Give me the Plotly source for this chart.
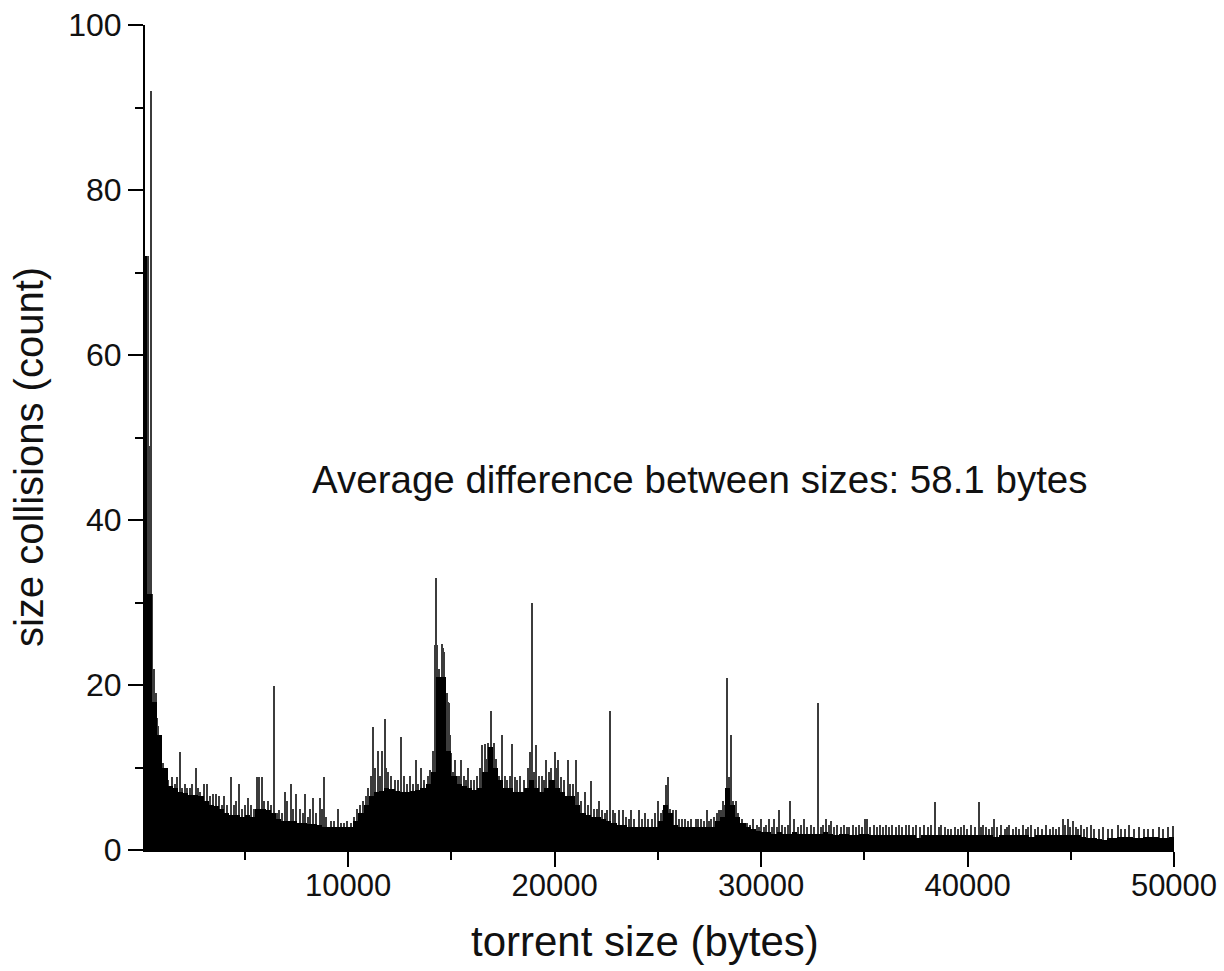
import plotly.graph_objects as go

# Histogram of torrent size collisions (counts per size bin)
BIN_WIDTH = 250
base_counts = [
    72, 31, 18, 14, 10, 7.8, 7.5, 7.0, 6.9, 6.7, 6.7, 6.5, 6.0, 5.5, 5.3, 5.0, 4.5, 4.2, 4.2, 4.0,
    4.2, 4.0, 5.0, 5.0, 4.8, 4.5, 3.8, 3.5, 3.5, 3.5, 3.3, 3.3, 3.2, 3.2, 3.0, 2.8, 2.8, 2.8, 2.8, 2.8,
    2.8, 3.5, 4.5, 5.5, 6.5, 7.0, 7.2, 7.5, 7.4, 7.2, 7.0, 7.0, 7.2, 7.3, 7.5, 8.0, 9.5, 21, 21, 12,
    9.0, 8.0, 7.8, 7.5, 7.3, 7.5, 9.5, 12.5, 10, 8.5, 7.5, 7.5, 7.0, 7.0, 7.5, 8.5, 7.5, 7.0, 7.5, 8.5,
    7.5, 7.0, 6.5, 6.5, 5.5, 4.5, 4.2, 4.0, 4.0, 3.8, 3.5, 3.3, 3.0, 3.0, 2.8, 2.8, 2.8, 2.8, 2.8, 2.8,
    3.5, 5.5, 4.5, 3.0, 2.8, 2.8, 2.8, 2.8, 2.8, 2.8, 2.8, 3.5, 4.0, 7.5, 5.5, 4.0, 3.3, 2.8, 2.5, 2.3,
    2.2, 2.2, 2.0, 2.2, 2.0, 2.0, 2.2, 2.0, 2.0, 2.0, 2.0, 2.0, 2.2, 2.0, 1.8, 2.0, 2.0, 1.8, 1.8, 2.0,
    2.0, 1.8, 1.8, 1.8, 1.8, 1.8, 1.8, 1.8, 1.8, 1.8, 1.5, 1.8, 1.8, 1.8, 1.8, 1.8, 1.8, 1.8, 1.8, 1.8,
    1.8, 1.8, 1.8, 1.8, 1.8, 1.6, 1.8, 1.8, 1.8, 1.8, 1.8, 1.8, 1.6, 1.8, 1.8, 1.8, 1.8, 1.8, 1.8, 1.8,
    1.8, 1.8, 1.6, 1.5, 1.5, 1.3, 1.2, 1.5, 1.5, 1.6, 1.6, 1.6, 1.5, 1.5, 1.6, 1.6, 1.6, 1.5, 1.5, 1.6,
]

# Individual narrow size bins (bytes) and their counts
SPIKE_WIDTH = 55
spike_sizes = [
    290, 350, 400, 470, 525, 575, 625, 690, 750, 800, 880, 950, 1050, 1150, 1300, 1450, 1600, 1730, 1854, 1950,
    2100, 2200, 2350, 2450, 2612, 2750, 2850, 3000, 3150, 3300, 3450, 3600, 3750, 3900, 4000, 4150, 4321, 4450, 4550, 4709,
    4850, 5000, 5160, 5300, 5450, 5600, 5700, 5850, 5950, 6100, 6250, 6418, 6550, 6650, 6800, 6950, 7050, 7257, 7350, 7500,
    7650, 7800, 7935, 8050, 8150, 8306, 8450, 8629, 8750, 8838, 8950, 9150, 9300, 9515, 9650, 9800, 9950, 10150, 10300, 10450,
    10600, 10700, 10850, 10950, 11100, 11209, 11300, 11450, 11550, 11650, 11774, 11850, 11950, 12100, 12250, 12400, 12550, 12700, 12850, 13000,
    13150, 13276, 13400, 13550, 13700, 13850, 13950, 14100, 14200, 14276, 14325, 14400, 14550, 14600, 14650, 14775, 14825, 14875, 14950, 15002,
    15100, 15164, 15300, 15400, 15486, 15600, 15700, 15809, 15950, 16100, 16250, 16400, 16502, 16615, 16700, 16800, 16900, 16938, 17050, 17150,
    17300, 17470, 17600, 17700, 17850, 17938, 18067, 18200, 18350, 18500, 18712, 18825, 18906, 19000, 19115, 19250, 19400, 19500, 19600, 19750,
    19850, 20003, 20100, 20164, 20325, 20450, 20648, 20750, 20890, 21019, 21150, 21300, 21457, 21600, 21745, 21900, 22050, 22148, 22300, 22450,
    22550, 22696, 22850, 22950, 23100, 23300, 23450, 23600, 23700, 23850, 24100, 24250, 24400, 24550, 24700, 24850, 25003, 25150, 25248, 25377,
    25490, 25600, 25732, 25893, 26050, 26150, 26297, 26450, 26600, 26850, 26950, 27100, 27250, 27377, 27500, 27587, 27700, 27850, 27950, 28050,
    28152, 28250, 28345, 28450, 28522, 28650, 28800, 28900, 29100, 29300, 29450, 29603, 29800, 29900, 30007, 30150, 30250, 30410, 30550, 30652,
    30750, 30862, 31000, 31150, 31300, 31426, 31620, 31800, 31950, 32104, 32250, 32400, 32550, 32749, 32900, 33000, 33152, 33300, 33394, 33550,
    33700, 33850, 34000, 34150, 34281, 34450, 34600, 34750, 34900, 35050, 35150, 35300, 35450, 35600, 35750, 35900, 36050, 36200, 36350, 36550,
    36700, 36850, 37000, 37188, 37350, 37510, 37700, 37914, 38100, 38250, 38446, 38600, 38720, 38900, 39050, 39204, 39400, 39550, 39700, 39849,
    40000, 40172, 40350, 40543, 40650, 40737, 40900, 41050, 41200, 41301, 41450, 41624, 41800, 41900, 42027, 42200, 42350, 42500, 42672, 42850,
    42950, 43076, 43250, 43400, 43600, 43801, 44000, 44150, 44300, 44450, 44610, 44700, 44850, 44950, 45092, 45250, 45350, 45495, 45650, 45800,
    45979, 46150, 46350, 46550, 46800, 47000, 47269, 47450, 47650, 47834, 48050, 48318, 48550, 48750, 49000, 49286, 49450, 49690, 49963,
]
spike_counts = [
    72, 49, 49, 92, 31, 22, 19, 19, 16, 15, 14, 12, 10.5, 9, 8.5, 8.9, 8, 8.9, 11.9, 7.5,
    8, 7.5, 7.5, 8, 10, 7.5, 7, 8, 8, 6.5, 6.8, 6.8, 6.5, 5.5, 6.5, 5.5, 8.9, 5.5, 6, 8.0,
    5, 5.5, 6.3, 5.5, 5, 8.9, 8.9, 8.9, 6, 6, 5.5, 19.9, 4.5, 4.8, 4.5, 7.0, 6, 8.0, 5, 6.8,
    5, 4.5, 6.8, 4, 5, 6.3, 4.5, 6.3, 5, 8.9, 4, 3.5, 3.5, 5.0, 3.3, 3.3, 3.5, 3.3, 4.0, 5,
    5.5, 6, 6.5, 7.5, 9, 14.9, 10, 12, 9, 12, 15.9, 10, 9.5, 9, 8.5, 8.5, 13.7, 9, 8, 9,
    8, 10.9, 8, 9.9, 8.5, 9, 9.7, 12, 24.8, 33, 24.8, 22, 25, 24.5, 24, 19, 18, 17.8, 14, 11.7,
    9.5, 10.9, 9, 9, 10.9, 9, 8.5, 9.9, 8.5, 8.5, 9, 10, 12.7, 12.9, 11, 13, 14, 16.8, 13, 11,
    9, 14, 9, 8.5, 9, 12.9, 8.9, 8.5, 9, 8.5, 9.9, 11.9, 30, 9.5, 12.7, 9, 9, 8.5, 10.9, 9.5,
    10, 11.9, 10, 10.9, 8.9, 8.5, 10.9, 8, 8, 10.9, 7, 6, 7, 5.5, 8.4, 5, 5, 6, 4.8, 4.5,
    4.8, 16.8, 4.8, 4.5, 4.8, 4.8, 4, 3.8, 4.8, 3.8, 4.8, 3.8, 4.5, 3.8, 3.8, 4.5, 6, 4.5, 4.8, 7.9,
    8.9, 5, 4.8, 4.8, 3.8, 3.8, 3.8, 3.5, 3.8, 3.8, 3.8, 3.8, 3.5, 4.8, 3.5, 3.8, 4.0, 4.5, 4.8, 4.8,
    6, 5.5, 20.8, 8.9, 14, 5.9, 5.9, 4.5, 3.8, 3.3, 3.0, 3.8, 3.0, 2.8, 3.8, 2.8, 3.0, 3.8, 2.8, 3.8,
    2.8, 4.8, 3, 2.8, 3.0, 5.9, 3.8, 2.8, 3.0, 3.8, 2.8, 3.0, 2.8, 17.8, 2.8, 3.0, 3.8, 3.0, 3.5, 2.8,
    3.0, 2.8, 3.0, 2.8, 2.8, 3, 2.8, 3.0, 2.8, 3.8, 3.8, 2.8, 3.0, 2.8, 3.0, 2.8, 3.0, 2.8, 3.0, 2.8,
    3.0, 2.8, 3.0, 3.0, 2.8, 3.0, 2.8, 3.0, 2.8, 3.0, 5.85, 2.8, 3.0, 2.8, 2.5, 2.5, 2.8, 2.5, 2.8, 3.0,
    2.5, 3.0, 2.8, 5.85, 2.8, 3.0, 2.8, 2.5, 2.8, 3.8, 2.8, 3.0, 2.5, 2.8, 3.0, 2.5, 2.8, 2.5, 3.0, 2.5,
    2.8, 3.0, 2.5, 2.8, 2.5, 3.0, 2.5, 2.8, 2.5, 2.8, 3.8, 3.0, 3.8, 2.8, 3.5, 2.8, 2.5, 3.0, 2.5, 2.8,
    3.0, 2.5, 2.5, 2.8, 2.5, 2.5, 3.0, 2.5, 2.5, 3.0, 2.5, 2.8, 2.5, 2.5, 2.5, 2.8, 2.5, 2.8, 2.9,
]

x_ticks = [10000, 20000, 30000, 40000, 50000]
y_ticks = [0, 20, 40, 60, 80, 100]

base_centers = [i * BIN_WIDTH + BIN_WIDTH / 2 for i in range(len(base_counts))]

FONT = "Liberation Sans, Arial, sans-serif"
TXT = "#111111"

fig = go.Figure()
# narrow bins first (drawn beneath), the broad mass on top
fig.add_trace(go.Bar(x=spike_sizes, y=spike_counts, width=SPIKE_WIDTH,
                     marker=dict(color="#3c3c3c", line=dict(width=0)), showlegend=False))
fig.add_trace(go.Bar(x=base_centers, y=base_counts, width=BIN_WIDTH,
                     marker=dict(color="black", line=dict(width=0)), showlegend=False))

fig.update_layout(
    width=1224, height=971,
    margin=dict(l=145, r=50, t=25, b=121, autoexpand=False),
    paper_bgcolor="white", plot_bgcolor="white",
    barmode="overlay", bargap=0,
    font=dict(family=FONT, color=TXT),
    xaxis=dict(range=[160, 50000], tickvals=x_ticks, ticktext=[str(v) for v in x_ticks],
               ticks="outside", ticklen=15, tickwidth=2, tickcolor="black",
               minor=dict(dtick=5000, tick0=0, ticks="outside", ticklen=8, tickwidth=2, tickcolor="black"),
               showline=True, linewidth=2, linecolor="black", showgrid=False, zeroline=False,
               automargin=False, ticklabelstandoff=-8, ticklabeloverflow="allow",
               tickfont=dict(size=31, family=FONT, color=TXT)),
    yaxis=dict(range=[0, 100], tickvals=y_ticks,
               ticks="outside", ticklen=15, tickwidth=2, tickcolor="black",
               minor=dict(dtick=10, tick0=0, ticks="outside", ticklen=8, tickwidth=2, tickcolor="black"),
               showline=True, linewidth=2, linecolor="black", showgrid=False, zeroline=False,
               automargin=False, ticklabeloverflow="allow",
               tickfont=dict(size=32, family=FONT, color=TXT)),
    annotations=[
        dict(text="torrent size (bytes)", xref="paper", yref="paper", x=0.486, y=-0.1115,
             showarrow=False, xanchor="center", yanchor="middle", font=dict(size=42, family=FONT, color=TXT)),
        dict(text="size collisions (count)", xref="paper", yref="paper", x=-0.112, y=0.476,
             showarrow=False, xanchor="center", yanchor="middle", textangle=-90,
             font=dict(size=40, family=FONT, color=TXT)),
        dict(text="Average difference between sizes: 58.1 bytes", xref="paper", yref="paper",
             x=0.539, y=0.4485, showarrow=False, xanchor="center", yanchor="middle",
             font=dict(size=38.5, family=FONT, color=TXT)),
    ],
)

# remove the page body's default 8px margin so the figure fills the window exactly
fig.write_html("out.html", config={"displayModeBar": False},
               post_script="document.body.style.margin='0';")
